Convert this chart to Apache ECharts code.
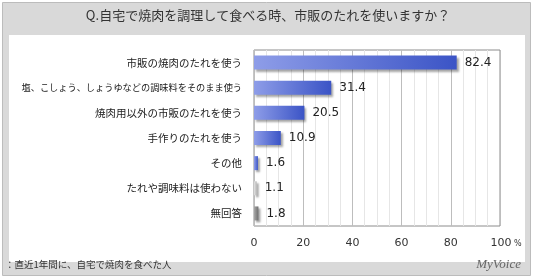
<!DOCTYPE html>
<html>
<head>
<meta charset="utf-8">
<script src="https://cdn.jsdelivr.net/npm/echarts@6/dist/echarts.min.js"></script>
<style>
  html, body { margin: 0; padding: 0; background: #fff; }
  #chart { width: 536px; height: 279px; }
</style>
</head>
<body>
<div id="chart"></div>
<script>
// 回答項目と割合（%）
const categories = [
  '市販の焼肉のたれを使う',
  '塩、こしょう、しょうゆなどの調味料をそのまま使う',
  '焼肉用以外の市販のたれを使う',
  '手作りのたれを使う',
  'その他',
  'たれや調味料は使わない',
  '無回答'
]
const values = [82.4, 31.4, 20.5, 10.9, 1.6, 1.1, 1.8]
const xTicks = [0, 20, 40, 60, 80, 100]

const titleText = 'Q.自宅で焼肉を調理して食べる時、市販のたれを使いますか？'
const noteText = '：直近1年間に、自宅で焼肉を食べた人'

const jpFont = '"Noto Sans CJK JP", sans-serif'

// バーの色（横方向グラデーション）
function barColor(i) {
  let from = '#8e9de8', to = '#3b54c6'
  if (i === 5) { from = '#e2e2e2'; to = '#b8b8b8' }
  if (i === 6) { from = '#a8a8a8'; to = '#6e6e6e' }
  return new echarts.graphic.LinearGradient(0, 0, 1, 0, [
    { offset: 0, color: from },
    { offset: 1, color: to }
  ])
}

const chart = echarts.init(document.getElementById('chart'))

chart.setOption({
  animation: false,
  graphic: [
    // 外枠・背景
    { type: 'rect', z: -10, shape: { x: 2.5, y: 2.5, width: 528, height: 273 },
      style: { fill: '#d9d9d9', stroke: '#bcbcbc', lineWidth: 1 } },
    { type: 'rect', z: -9, shape: { x: 9, y: 35, width: 516, height: 227 },
      style: { fill: '#ffffff' } },
    { type: 'text', left: 'center', top: 9,
      style: { text: titleText, font: '13px ' + jpFont, fill: '#333' } },
    { type: 'text', left: 5, top: 260,
      style: { text: noteText, font: '9.5px ' + jpFont, fill: '#333' } },
    { type: 'text', right: 15, top: 258,
      style: { text: 'MyVoice', font: 'italic 13px "Liberation Serif", serif', fill: '#666' } }
  ],
  grid: {
    left: 254, right: 36, top: 50, bottom: 53,
    outerBoundsMode: 'none',
    containLabel: false,
    show: true, borderColor: '#8c8c8c', borderWidth: 1
  },
  xAxis: {
    type: 'value', min: 0, max: 100, interval: 20,
    axisLine: { show: false },
    axisTick: { show: false },
    axisLabel: {
      margin: 12,
      color: '#333',
      fontSize: 11,
      fontFamily: 'DejaVu Sans',
      customValues: xTicks,
      formatter: v => v === 100 ? '{n|100}{p| %}' : String(v),
      rich: {
        n: { fontSize: 11, fontFamily: 'DejaVu Sans', color: '#333', padding: [0, 0, 0, 12] },
        p: { fontSize: 8, fontFamily: 'DejaVu Sans', color: '#333' }
      }
    },
    splitLine: { show: true, lineStyle: { color: '#bdbdbd', width: 1 } },
    minorTick: { show: false, splitNumber: 4 },
    minorSplitLine: { show: true, lineStyle: { color: '#e6e6e6', width: 1 } }
  },
  yAxis: {
    type: 'category',
    data: categories.map(c => c.length > 20
      ? { value: c, textStyle: { fontSize: 9.2 } }
      : c),
    inverse: true,
    axisLine: { show: false },
    axisTick: { show: false },
    axisLabel: { margin: 12, color: '#222', fontSize: 10.5, fontFamily: jpFont }
  },
  series: [{
    type: 'bar',
    barWidth: 14,
    data: values.map((v, i) => ({
      value: v,
      itemStyle: {
        color: barColor(i),
        shadowColor: 'rgba(0,0,0,0.35)',
        shadowBlur: 2,
        shadowOffsetX: 2,
        shadowOffsetY: 2
      }
    })),
    label: {
      show: true,
      position: 'right',
      distance: 8,
      color: '#222',
      fontSize: 12,
      fontFamily: 'DejaVu Sans',
      formatter: p => p.value.toFixed(1)
    }
  }]
})
</script>
</body>
</html>
